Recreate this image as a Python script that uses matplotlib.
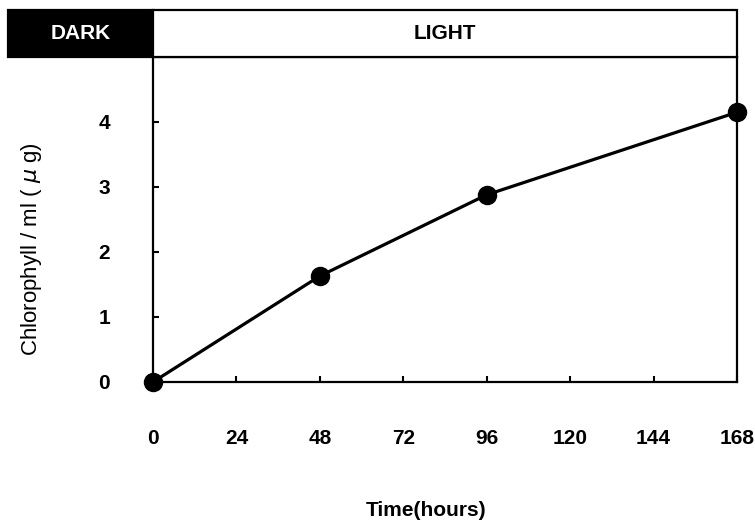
import matplotlib.pyplot as plt
from matplotlib.patches import Rectangle

plt.rcParams['font.family'] = ['Liberation Sans', 'DejaVu Sans']

hours = [0, 48, 96, 168]
chlorophyll = [0, 1.63, 2.88, 4.15]
xticks = [0, 24, 48, 72, 96, 120, 144, 168]
yticks = [0, 1, 2, 3, 4]

fig = plt.figure(figsize=(7.55, 5.21), dpi=100)
ax = fig.add_axes([0.2026, 0.2668, 0.7735, 0.6238])

ax.plot(hours, chlorophyll, color="black", lw=2.3, marker="o", ms=13,
        clip_on=False, zorder=5)
ax.set_xlim(0, 168)
ax.set_ylim(0, 5)
ax.set_xticks(xticks)
ax.set_yticks(yticks)
for s in ax.spines.values():
    s.set_linewidth(1.6)
ax.tick_params(direction="in", length=4, width=1.5)
ax.tick_params(axis="x", pad=34)
ax.tick_params(axis="y", pad=31)
for lab in ax.get_xticklabels() + ax.get_yticklabels():
    lab.set_fontsize(15)
    lab.set_fontweight("bold")

fig.text(426 / 755, 1 - 510 / 521, "Time(hours)", ha="center", va="center",
         fontsize=15, fontweight="bold")
fig.text(32 / 755, 1 - 249 / 521, "Chlorophyll / ml ( $\\mu$ g)", ha="center",
         va="center", rotation=90, fontsize=16)

# light / dark header band
hd = fig.add_axes([0.0106, 0.8906, 0.9656, 0.0902])
left = -41.7
hd.set_xlim(left, 168)
hd.set_ylim(0, 1)
hd.axis("off")
hd.add_patch(Rectangle((left, 0), -left, 1, facecolor="black", edgecolor="black",
                       lw=1.6, clip_on=False))
hd.add_patch(Rectangle((0, 0), 168, 1, facecolor="white", edgecolor="black",
                       lw=1.6, clip_on=False))
hd.text(left / 2, 0.5, "DARK", color="white", ha="center", va="center",
        fontsize=15, fontweight="bold")
hd.text(84, 0.5, "LIGHT", color="black", ha="center", va="center",
        fontsize=15, fontweight="bold")

fig.savefig("out.png", dpi=100)
